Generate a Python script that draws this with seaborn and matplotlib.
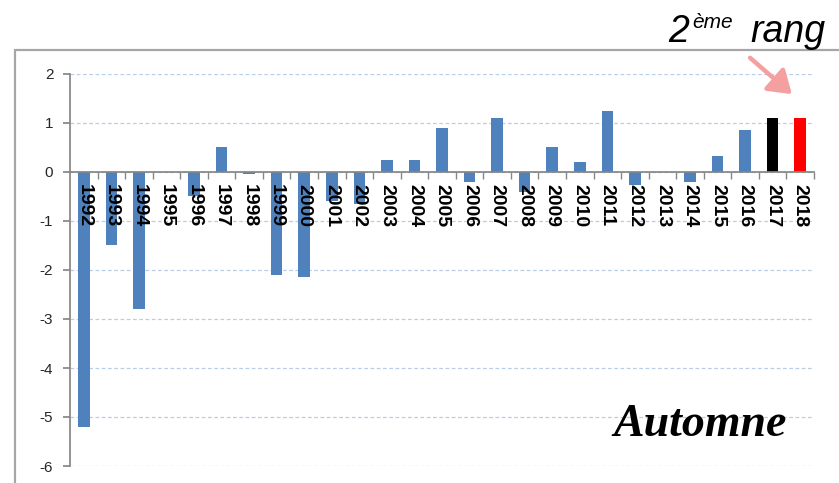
import matplotlib
matplotlib.use("Agg")
import matplotlib.pyplot as plt
import seaborn as sns
import pandas as pd
from matplotlib.ticker import FixedLocator
from matplotlib.patches import FancyArrowPatch
from matplotlib.lines import Line2D

years = [str(y) for y in range(1992, 2019)]
values = [-5.2, -1.5, -2.8, 0.0, -0.5, 0.5, -0.05, -2.1, -2.15, -0.6,
          -0.65, 0.25, 0.25, 0.9, -0.2, 1.1, -0.4, 0.5, 0.2, 1.25,
          -0.27, 0.01, -0.2, 0.33, 0.85, 1.1, 1.1]
bar_colors = ["#4F81BD"] * 25 + ["#000000", "#FF0000"]
yticks = [-6, -5, -4, -3, -2, -1, 0, 1, 2]
title_num = "2"
title_sup = "ème"
title_word = "rang"
season = "Automne"

sns.set_theme(style="white")
plt.rcParams['font.family'] = ['Liberation Sans', 'DejaVu Sans']

df = pd.DataFrame({"year": years, "value": values})

fig = plt.figure(figsize=(8.39, 4.83), dpi=100)
ax = fig.add_axes([70/839, 1-466/483, (814-70)/839, (466-74)/483])

sns.barplot(data=df, x="year", y="value", hue="year", palette=bar_colors,
            legend=False, width=0.42, ax=ax, saturation=1,
            edgecolor=None, linewidth=0)

ax.set_xlim(-0.5, len(years) - 0.5)
ax.set_ylim(-6, 2)
ax.set_yticks(yticks)
ax.set_yticklabels([str(v) for v in yticks], fontsize=11)
ax.yaxis.grid(True, color="#B9CDE5", linestyle=(0, (3, 2)), linewidth=0.9)
ax.set_axisbelow(True)
ax.set_xlabel("")
ax.set_ylabel("")

for s in ["top", "right"]:
    ax.spines[s].set_visible(False)
ax.spines["left"].set_color("#868686")
ax.spines["bottom"].set_color("#868686")
ax.spines["bottom"].set_position(("data", 0))
ax.spines["bottom"].set_zorder(5)

ax.tick_params(axis="y", which="major", left=True, length=5, color="#868686", pad=7)
ax.tick_params(axis="x", which="major", bottom=False, labelbottom=False, length=0)
ax.xaxis.set_minor_locator(FixedLocator([i + 0.5 for i in range(len(years))]))
ax.tick_params(axis="x", which="minor", bottom=True, length=5, color="#868686", width=1)

# category labels drawn over the bars, just below the zero line
for i, yr in enumerate(years):
    ax.annotate(yr, xy=(i, 0), xytext=(0, -9), textcoords="offset points",
                rotation=-90, ha="center", va="top", fontsize=14, fontweight="bold",
                color="black", zorder=10, annotation_clip=False)

# outer frame
fig.add_artist(Line2D([15/839, 1.0], [1-50/483, 1-50/483], color="#A6A6A6", linewidth=1.6, transform=fig.transFigure))
fig.add_artist(Line2D([15/839, 15/839], [1-50/483, 0.0], color="#A6A6A6", linewidth=1.6, transform=fig.transFigure))

# annotation
fig.text(668/839, 1-42/483, title_num, fontsize=27, fontstyle="italic", color="black")
fig.text(692/839, 1-28/483, title_sup, fontsize=15, fontstyle="italic", color="black")
fig.text(750/839, 1-42/483, title_word, fontsize=27, fontstyle="italic", color="black")
arrow = FancyArrowPatch((748/839, 1-56/483), (794/839, 1-96/483), transform=fig.transFigure,
                        arrowstyle="-|>,head_length=9,head_width=6", color="#F4A0A0",
                        linewidth=3.2, mutation_scale=1.5)
fig.add_artist(arrow)

fig.text(700/839, 1-425/483, season, fontsize=33, fontstyle="italic", fontweight="bold",
         family=["Liberation Serif", "DejaVu Serif"], ha="center", va="center", color="black")

fig.savefig("out.png", dpi=100)
